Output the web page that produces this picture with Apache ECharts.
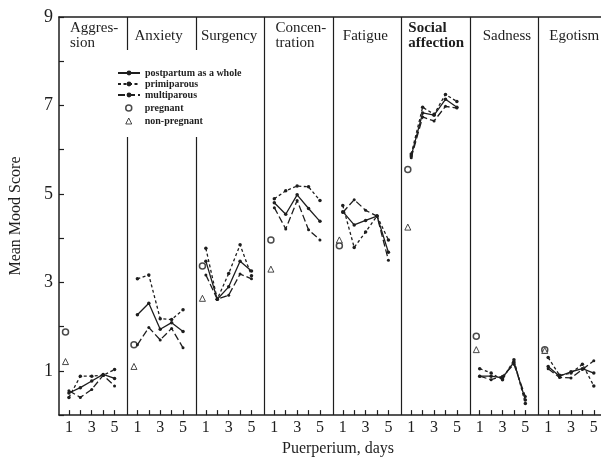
<!DOCTYPE html>
<html>
<head>
<meta charset="utf-8">
<script src="https://cdn.jsdelivr.net/npm/echarts@6/dist/echarts.min.js"></script>
<style>
  html, body { margin: 0; padding: 0; background: #fff; }
  #moodChart { width: 601px; height: 462px; }
</style>
</head>
<body>
<div id="moodChart"></div>
<script>
// mood scales, one panel each
const moods = ["Aggres-\nsion", "Anxiety", "Surgency", "Concen-\ntration", "Fatigue", "Social\naffection", "Sadness", "Egotism"];
const days = [1, 2, 3, 4, 5];
const labelledDays = [1, 3, 5];
const yTickLabels = [1, 3, 5, 7, 9];

// mean scores, days 1..5, one row per mood
const postpartum = [
  [0.50, 0.62, 0.77, 0.92, 0.83],
  [2.27, 2.53, 1.94, 2.09, 1.89],
  [3.48, 2.62, 2.90, 3.48, 3.26],
  [4.80, 4.54, 4.98, 4.67, 4.38],
  [4.60, 4.30, 4.40, 4.50, 3.68],
  [5.86, 6.83, 6.78, 7.14, 6.96],
  [0.88, 0.88, 0.84, 1.20, 0.34],
  [1.10, 0.88, 0.98, 1.05, 0.95]
];
const primiparous = [
  [0.40, 0.88, 0.88, 0.90, 1.03],
  [3.08, 3.17, 2.18, 2.16, 2.38],
  [3.77, 2.62, 3.20, 3.85, 3.15],
  [4.89, 5.07, 5.18, 5.16, 4.85],
  [4.74, 3.79, 4.14, 4.50, 3.96],
  [5.90, 6.96, 6.80, 7.25, 7.09],
  [1.05, 0.95, 0.80, 1.25, 0.26],
  [1.30, 0.90, 0.95, 1.15, 0.66]
];
const multiparous = [
  [0.55, 0.40, 0.58, 0.90, 0.66],
  [1.59, 1.98, 1.70, 1.96, 1.52],
  [3.17, 2.62, 2.71, 3.19, 3.08],
  [4.69, 4.21, 4.85, 4.19, 3.96],
  [4.58, 4.87, 4.63, 4.50, 3.50],
  [5.82, 6.74, 6.65, 6.98, 6.94],
  [0.88, 0.80, 0.88, 1.15, 0.42],
  [1.05, 0.85, 0.84, 1.03, 1.23]
];
// reference groups, one value per mood
const pregnant = [1.88, 1.59, 3.37, 3.96, 3.83, 5.55, 1.78, 1.48];
const nonPregnant = [1.21, 1.10, 2.64, 3.30, 3.96, 4.25, 1.48, 1.46];

// layout of the shared day axis: each panel is 6 day-units wide
const panelSpan = 6;
const dayShift = 0.13;
const refDay = 0.7;
const titleNudge = [11, 7, 5, 11, 10, 7, 13, 11];

const ink = "#1e1e1e";
const serif = "Liberation Serif, DejaVu Serif, serif";

function px(k, d) {
  return k * panelSpan + d - dayShift;
}

function lineData(rows) {
  const out = [];
  rows.forEach((row, k) => {
    days.forEach((d, i) => out.push([px(k, d), row[i]]));
    out.push([px(k, 6), "-"]);
  });
  return out;
}

function refData(vals) {
  return vals.map((v, k) => [px(k, refDay), v]);
}

const tickValues = [];
const labelValues = [];
moods.forEach((m, k) => {
  days.forEach(d => tickValues.push(px(k, d)));
  labelledDays.forEach(d => labelValues.push(px(k, d)));
});

const dividers = [];
for (let k = 1; k < moods.length; k++) dividers.push({ xAxis: k * panelSpan });

const legendText = { fontFamily: serif, fontSize: 10, lineHeight: 10, fontWeight: "bold", color: ink };

const myChart = echarts.init(document.getElementById("moodChart"));

const option = {
  animation: false,
  backgroundColor: "#fff",
  grid: { left: 59, right: 0, top: 17, bottom: 37 },
  legend: [
    {
      left: 113,
      top: 50,
      orient: "vertical",
      itemGap: 1,
      itemWidth: 22,
      itemHeight: 6,
      padding: [18, 12, 2, 4],
      backgroundColor: "#fff",
      z: 10,
      textStyle: legendText,
      data: ["postpartum as a whole", "primiparous", "multiparous"]
    },
    {
      left: 113,
      top: 102,
      orient: "vertical",
      itemGap: 3,
      itemWidth: 6,
      itemHeight: 6,
      padding: [1, 12, 11, 12],
      backgroundColor: "#fff",
      z: 10,
      textStyle: Object.assign({}, legendText, { padding: [0, 0, 0, 8] }),
      data: [
        { name: "pregnant", itemStyle: { color: "#fff", borderColor: ink, borderWidth: 1.5 } },
        { name: "non-pregnant", itemStyle: { color: "#fff", borderColor: ink, borderWidth: 1 } }
      ]
    }
  ],
  xAxis: [
    {
      type: "value",
      min: 0,
      max: 47.5,
      name: "Puerperium, days",
      nameLocation: "middle",
      nameGap: 25,
      nameTextStyle: { fontFamily: serif, fontSize: 16, color: ink, padding: [0, 0, 0, 16] },
      splitLine: { show: false },
      axisLine: { lineStyle: { color: ink, width: 1.5 } },
      axisTick: { inside: true, length: 5, customValues: tickValues, lineStyle: { color: ink, width: 1.2 } },
      axisLabel: {
        customValues: labelValues,
        margin: 5,
        fontFamily: serif,
        fontSize: 16,
        color: ink,
        formatter: v => String(Math.round(v - Math.floor(v / panelSpan) * panelSpan + dayShift))
      }
    },
    {
      type: "value",
      position: "top",
      min: 0,
      max: 47.5,
      splitLine: { show: false },
      axisLine: { lineStyle: { color: ink, width: 1.5 } },
      axisTick: { show: false },
      axisLabel: { show: false }
    }
  ],
  yAxis: {
    type: "value",
    min: 0,
    max: 9,
    interval: 1,
    name: "Mean Mood Score",
    nameLocation: "middle",
    nameGap: 35,
    nameTextStyle: { fontFamily: serif, fontSize: 16, color: ink },
    splitLine: { show: false },
    axisLine: { lineStyle: { color: ink, width: 1.5 } },
    axisTick: { inside: true, length: 5, lineStyle: { color: ink, width: 1.2 } },
    axisLabel: {
      margin: 6,
      fontFamily: serif,
      fontSize: 18,
      color: ink,
      formatter: v => (yTickLabels.indexOf(v) >= 0 ? String(v) : "")
    }
  },
  series: [
    {
      name: "postpartum as a whole",
      type: "line",
      data: lineData(postpartum),
      symbol: "circle",
      symbolSize: 3.5,
      itemStyle: { color: ink },
      lineStyle: { color: ink, width: 1.3, type: "solid" }
    },
    {
      name: "primiparous",
      type: "line",
      data: lineData(primiparous),
      symbol: "circle",
      symbolSize: 3.5,
      itemStyle: { color: ink },
      lineStyle: { color: ink, width: 1.3, type: [3, 2.5] }
    },
    {
      name: "multiparous",
      type: "line",
      data: lineData(multiparous),
      symbol: "circle",
      symbolSize: 3,
      itemStyle: { color: ink },
      lineStyle: { color: ink, width: 1.3, type: [7, 3] }
    },
    {
      name: "pregnant",
      type: "scatter",
      data: refData(pregnant),
      symbol: "circle",
      symbolSize: 6,
      itemStyle: { color: "#fff", borderColor: ink, borderWidth: 1.5 },
      markLine: {
        silent: true,
        symbol: ["none", "none"],
        label: { show: false },
        lineStyle: { color: ink, width: 1.2, type: "solid" },
        data: dividers
      }
    },
    {
      name: "non-pregnant",
      type: "scatter",
      data: refData(nonPregnant),
      symbol: "triangle",
      symbolSize: 6,
      itemStyle: { color: "#fff", borderColor: ink, borderWidth: 1 }
    }
  ]
};

myChart.setOption(option);

// panel headings, placed from the axis scale
const headings = moods.map((m, k) => ({
  type: "text",
  x: myChart.convertToPixel({ xAxisIndex: 0 }, k * panelSpan) + titleNudge[k],
  y: 36,
  z: 20,
  style: {
    text: m,
    fontFamily: serif,
    fontSize: 15,
    fontWeight: m.indexOf("Social") === 0 ? "bold" : "normal",
    lineHeight: 15,
    fill: ink,
    textAlign: "left",
    textVerticalAlign: "middle"
  }
}));
myChart.setOption({ graphic: headings });
</script>
</body>
</html>
